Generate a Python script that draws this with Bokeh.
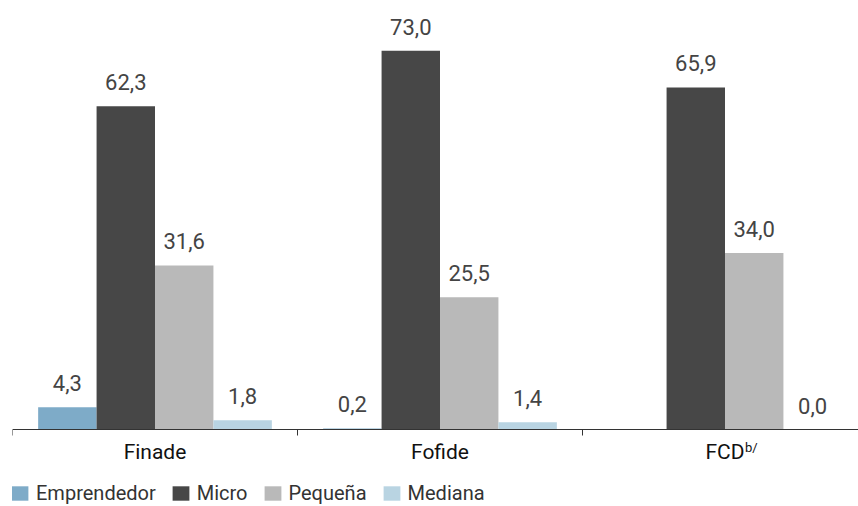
from bokeh.plotting import figure
from bokeh.models import Range1d, FixedTicker, Legend, LegendItem, ColumnDataSource, Label
from bokeh.transform import dodge
from bokeh.core.properties import value
from bokeh.embed import file_html
from bokeh.resources import INLINE

categories = ["Finade", "Fofide", "FCD"]
emprendedor = [4.3, 0.2, None]
micro = [62.3, 73.0, 65.9]
pequena = [31.6, 25.5, 34.0]
mediana = [1.8, 1.4, 0.0]
series_names = ["Emprendedor", "Micro", "Pequeña", "Mediana"]
series_values = [emprendedor, micro, pequena, mediana]
colors = ["#7eabc8", "#474747", "#b9b9b9", "#b9d4e2"]

FONT = "Roboto"

W, H = 858, 506
left = 12
axis_px = 429
px_per_unit = 285
scale_y = 5.19

p = figure(width=W, height=H, output_backend="svg", toolbar_location=None,
           x_range=Range1d(0, (W - left) / px_per_unit),
           y_range=Range1d(-(H - axis_px) / scale_y, axis_px / scale_y),
           min_border_left=left, min_border_right=0, min_border_top=0, min_border_bottom=0,
           y_axis_location=None, outline_line_color=None)
p.xgrid.visible = False
p.ygrid.visible = False

centers = [i + 0.5 for i in range(len(categories))]
bar_w = 0.205
offsets = [-1.5 * bar_w, -0.5 * bar_w, 0.5 * bar_w, 1.5 * bar_w]

items = []
for name, vals, col, off in zip(series_names, series_values, colors, offsets):
    xs = [c for c, v in zip(centers, vals) if v is not None]
    ys = [v for v in vals if v is not None]
    labels = [f"{v:.1f}".replace(".", ",") for v in ys]
    src = ColumnDataSource(dict(x=xs, top=ys, label=labels))
    r = p.vbar(x=dodge("x", off), top="top", width=bar_w, source=src,
               fill_color=col, line_color=None)
    p.text(x=dodge("x", off), y="top", text="label", source=src, y_offset=-24,
           text_align="center", text_baseline="alphabetic",
           text_font=value(FONT), text_font_size="22px", text_color="#444444")
    items.append(LegendItem(label=name, renderers=[r]))

ax = p.xaxis[0]
ax.fixed_location = 0
ax.ticker = FixedTicker(ticks=centers, minor_ticks=list(range(len(categories) + 1)))
ax.major_label_overrides = {c: n for c, n in zip(centers, categories)}
ax.major_tick_out = 0
ax.major_tick_in = 0
ax.minor_tick_out = 6
ax.minor_tick_in = 0
ax.minor_tick_line_color = "#333333"
ax.axis_line_color = "#333333"
ax.major_label_standoff = 4
ax.major_label_text_font = FONT
ax.major_label_text_font_size = "21px"
ax.major_label_text_color = "#111111"

p.add_layout(Label(x=centers[2], y=0, x_offset=20, y_offset=-10, text="b/",
                   text_font=FONT, text_font_size="13px", text_color="#111111",
                   text_align="left", text_baseline="top"))

legend = Legend(items=items, orientation="horizontal", location=(-3, 1),
                glyph_width=21, glyph_height=18, label_standoff=6, spacing=14,
                padding=0, margin=0, border_line_color=None, background_fill_alpha=0,
                label_text_font=FONT, label_text_font_size="20px", label_text_color="#333333")
p.add_layout(legend)

open("out.html", "w").write(file_html(p, INLINE))
